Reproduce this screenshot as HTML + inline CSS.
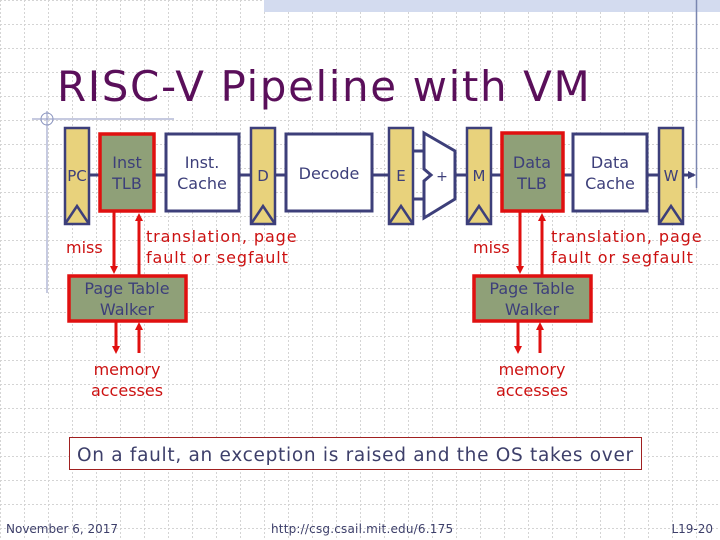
<!DOCTYPE html>
<html><head><meta charset="utf-8"><style>
body{margin:0;width:720px;height:540px;overflow:hidden;background:#fff;}
svg{display:block}
text{font-family:"DejaVu Sans","Liberation Sans",sans-serif;}
</style></head><body>
<svg width="720" height="540" viewBox="0 0 720 540" xmlns="http://www.w3.org/2000/svg">
<defs>
<pattern id="g" width="24" height="24" patternUnits="userSpaceOnUse">
<path d="M0 0.5H24M0.5 0V24" stroke="#d4d4d4" stroke-width="1" stroke-dasharray="2,2" fill="none"/>
</pattern>
<marker id="ar" markerWidth="8" markerHeight="8" refX="4" refY="4" orient="auto" markerUnits="userSpaceOnUse">
<path d="M0,0 L8,4 L0,8 z" fill="#e01010"/></marker>
<marker id="ab" markerWidth="8" markerHeight="8" refX="6" refY="4" orient="auto" markerUnits="userSpaceOnUse">
<path d="M0,0 L8,4 L0,8 z" fill="#3d3f7a"/></marker>
</defs>
<rect width="720" height="540" fill="url(#g)"/>
<rect x="264" y="0" width="456" height="12" fill="#d3dbef"/>
<line x1="696.5" y1="0" x2="696.5" y2="188" stroke="#7a86b0" stroke-width="1.5"/>
<text x="57" y="101" font-size="42" fill="#5a0f5a" letter-spacing="1.6">RISC-V Pipeline with VM</text>
<line x1="32" y1="119" x2="174" y2="119" stroke="#8c96c0"/>
<line x1="47" y1="111" x2="47" y2="293" stroke="#8c96c0"/>
<circle cx="47" cy="119" r="6" fill="none" stroke="#8c96c0"/>
<g stroke="#3d3f7a" stroke-width="3" fill="none">
<line x1="89" y1="175" x2="100" y2="175"/>
<line x1="154" y1="175" x2="166" y2="175"/>
<line x1="239" y1="175" x2="251" y2="175"/>
<line x1="275" y1="175" x2="286" y2="175"/>
<line x1="372" y1="175" x2="389" y2="175"/>
<line x1="413" y1="151" x2="424" y2="151"/>
<line x1="413" y1="199" x2="424" y2="199"/>
<line x1="455" y1="175" x2="467" y2="175"/>
<line x1="491" y1="175" x2="502" y2="175"/>
<line x1="563" y1="175" x2="573" y2="175"/>
<line x1="647" y1="175" x2="659" y2="175"/>
<line x1="683" y1="175" x2="694" y2="175" marker-end="url(#ab)"/>
</g>
<g stroke="#3d3f7a" stroke-width="2.5" fill="#e8d27c">
<rect x="65" y="128" width="24" height="96"/>
<rect x="251" y="128" width="24" height="96"/>
<rect x="389" y="128" width="24" height="96"/>
<rect x="467" y="128" width="24" height="96"/>
<rect x="659" y="128" width="24" height="96"/>
</g>
<g stroke="#3d3f7a" stroke-width="2.5" fill="none">
<path d="M65 224 L77 206 L89 224"/><path d="M251 224 L263 206 L275 224"/>
<path d="M389 224 L401 206 L413 224"/><path d="M467 224 L479 206 L491 224"/>
<path d="M659 224 L671 206 L683 224"/>
</g>
<g font-size="15" fill="#3d3f7a" text-anchor="middle">
<text x="77" y="181">PC</text><text x="263" y="181">D</text><text x="401" y="181">E</text>
<text x="479" y="181">M</text><text x="671" y="181">W</text>
</g>
<g stroke="#3d3f7a" stroke-width="3" fill="#fff">
<rect x="166" y="134" width="73" height="77"/>
<rect x="286" y="134" width="86" height="77"/>
<rect x="573" y="134" width="74" height="77"/>
<path d="M424 133 L455 151 L455 199 L424 218 L424 181 L431 175 L424 169 Z"/>
</g>
<g stroke="#e01010" stroke-width="3.5" fill="#8fa078">
<rect x="100" y="134" width="54" height="77"/>
<rect x="502" y="133" width="61" height="78"/>
<rect x="69" y="276" width="117" height="45"/>
<rect x="474" y="276" width="117" height="45"/>
</g>
<g font-size="16" fill="#3d3f7a" text-anchor="middle">
<text x="127" y="168">Inst</text><text x="127" y="189">TLB</text>
<text x="202" y="168">Inst.</text><text x="202" y="189">Cache</text>
<text x="329" y="179">Decode</text>
<text x="442" y="181" font-size="14">+</text>
<text x="532" y="168">Data</text><text x="532" y="189">TLB</text>
<text x="610" y="168">Data</text><text x="610" y="189">Cache</text>
<text x="127" y="294">Page Table</text><text x="127" y="315">Walker</text>
<text x="532" y="294">Page Table</text><text x="532" y="315">Walker</text>
</g>
<g stroke="#e01010" stroke-width="3" fill="none">
<line x1="114" y1="211" x2="114" y2="270" marker-end="url(#ar)"/>
<line x1="139" y1="276" x2="139" y2="217" marker-end="url(#ar)"/>
<line x1="116" y1="321" x2="116" y2="350" marker-end="url(#ar)"/>
<line x1="139" y1="353" x2="139" y2="326" marker-end="url(#ar)"/>
<line x1="520" y1="211" x2="520" y2="270" marker-end="url(#ar)"/>
<line x1="542" y1="276" x2="542" y2="217" marker-end="url(#ar)"/>
<line x1="518" y1="321" x2="518" y2="350" marker-end="url(#ar)"/>
<line x1="540" y1="353" x2="540" y2="326" marker-end="url(#ar)"/>
</g>
<g font-size="16" fill="#cc1111">
<text x="66" y="253">miss</text>
<text x="146" y="242" letter-spacing="0.9">translation, page</text><text x="146" y="263" letter-spacing="0.9">fault or segfault</text>
<text x="473" y="253">miss</text>
<text x="551" y="242" letter-spacing="0.9">translation, page</text><text x="551" y="263" letter-spacing="0.9">fault or segfault</text>
<text x="127" y="375" text-anchor="middle">memory</text><text x="127" y="396" text-anchor="middle">accesses</text>
<text x="532" y="375" text-anchor="middle">memory</text><text x="532" y="396" text-anchor="middle">accesses</text>
</g>
<rect x="69.5" y="437.5" width="572" height="32" fill="#fff" stroke="#a02020" stroke-width="1"/>
<text x="77" y="461" font-size="18.5" fill="#3d3f6a" letter-spacing="0.7">On a fault, an exception is raised and the OS takes over</text>
<g font-size="12" fill="#3d3f6a">
<text x="6" y="533">November 6, 2017</text>
<text x="271" y="533" letter-spacing="0.2">http://csg.csail.mit.edu/6.175</text>
<text x="713" y="533" text-anchor="end">L19-20</text>
</g>
</svg>
</body></html>
